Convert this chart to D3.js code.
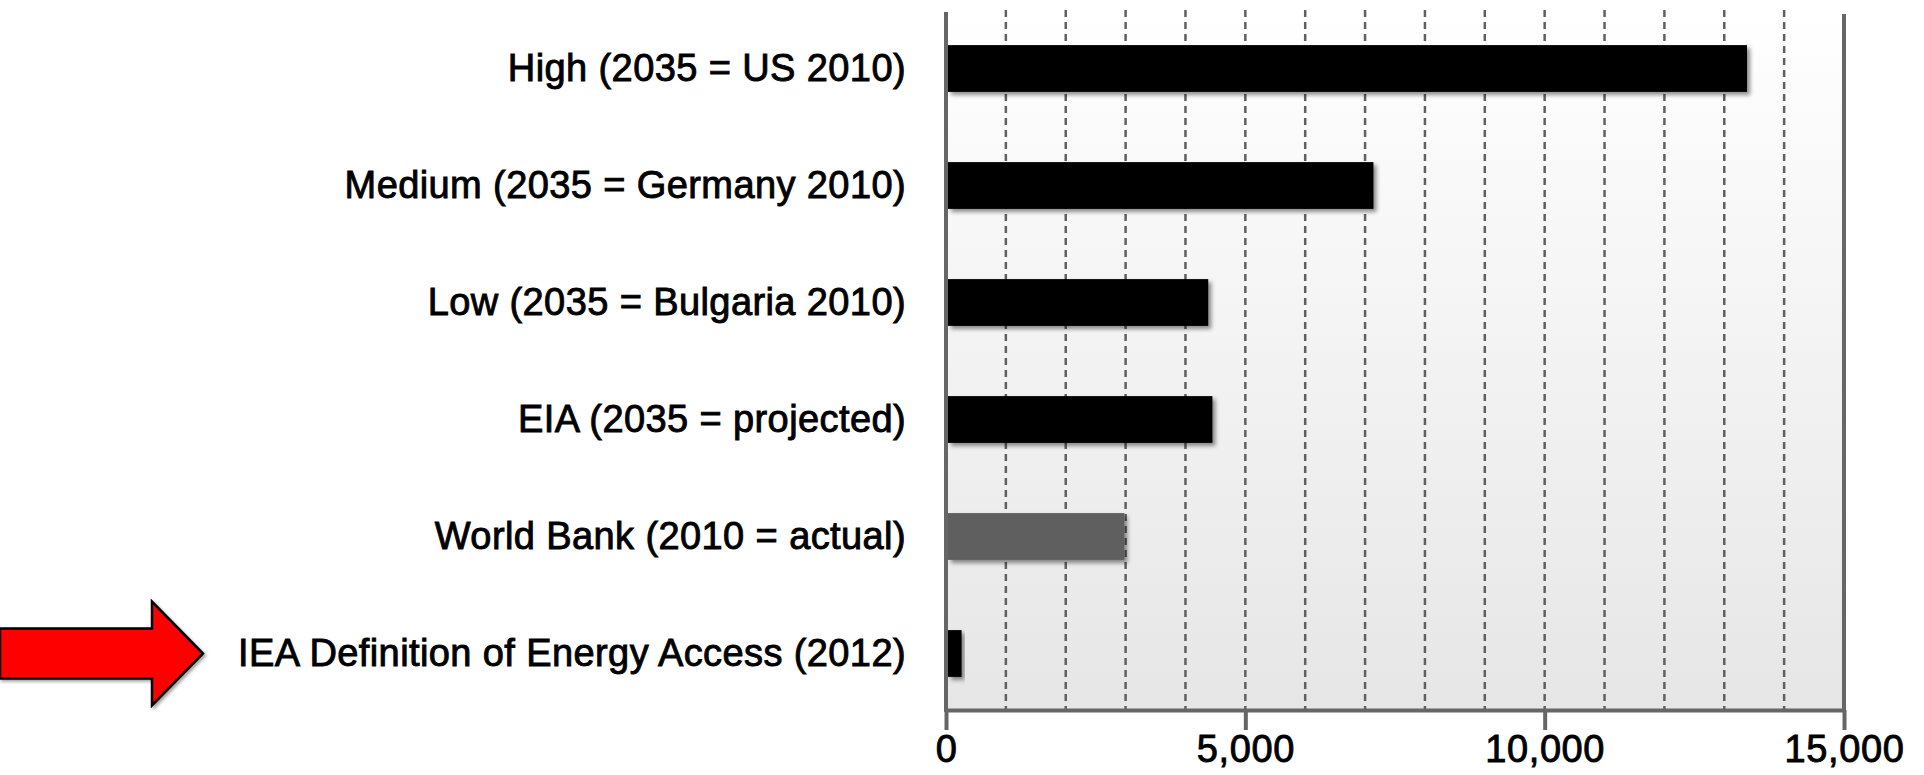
<!DOCTYPE html>
<html>
<head>
<meta charset="utf-8">
<script src="https://cdn.jsdelivr.net/npm/d3@7"></script>
<style>
  body { margin: 0; background: #fff; }
  svg { display: block; }
  .lbl text { font-family: "Liberation Sans", Arial, sans-serif; font-size: 38px; letter-spacing: 0.6px; fill: #000; stroke: #000; stroke-width: 0.9px; }
</style>
</head>
<body>
<script>
// data
var categories = [
    "High (2035 = US 2010)",
    "Medium (2035 = Germany 2010)",
    "Low (2035 = Bulgaria 2010)",
    "EIA (2035 = projected)",
    "World Bank (2010 = actual)",
    "IEA Definition of Energy Access (2012)"
];
var values = [13380, 7140, 4380, 4450, 2980, 260];
var barColors = ["#000", "#000", "#000", "#000", "#5f5f5f", "#000"];
var tickVals = [0, 5000, 10000, 15000];

var width = 1924, height = 775;

var svg = d3.select("body")
    .append("svg")
    .attr("width", width)
    .attr("height", height);

var x = d3.scaleLinear()
    .domain([0, 15000])
    .range([946, 1844]);

var y = d3.scaleBand()
    .domain(categories)
    .range([10, 712])
    .paddingInner(0.6)
    .paddingOuter(0.3);

var defs = svg.append("defs");

// plot background fades from white to light grey
var grad = defs.append("linearGradient")
    .attr("id", "bg")
    .attr("x1", 0).attr("y1", 0)
    .attr("x2", 0).attr("y2", 1);
grad.append("stop").attr("offset", "0%").attr("stop-color", "#ffffff");
grad.append("stop").attr("offset", "100%").attr("stop-color", "#e6e6e6");

var shadow = defs.append("filter")
    .attr("id", "shadow")
    .attr("x", "-10%").attr("y", "-20%")
    .attr("width", "130%").attr("height", "160%");
shadow.append("feDropShadow")
    .attr("dx", 3).attr("dy", 3)
    .attr("stdDeviation", 2)
    .attr("flood-color", "#000")
    .attr("flood-opacity", 0.45);

var arrowShadow = defs.append("filter").attr("id", "ashadow");
arrowShadow.append("feDropShadow")
    .attr("dx", 2).attr("dy", 2)
    .attr("stdDeviation", 1.5)
    .attr("flood-opacity", 0.35);

svg.append("rect")
    .attr("x", x(0))
    .attr("y", 12)
    .attr("width", x(15000) - x(0))
    .attr("height", 710 - 12)
    .attr("fill", "url(#bg)");

// dashed grid every 1000
svg.append("g")
    .selectAll("line")
    .data(x.ticks(15).filter(function(d) { return d > 0 && d < 15000; }))
    .enter()
    .append("line")
    .attr("x1", function(d) { return x(d); })
    .attr("x2", function(d) { return x(d); })
    .attr("y1", 10)
    .attr("y2", 710)
    .attr("stroke", "#606060")
    .attr("stroke-width", 2.5)
    .attr("stroke-dasharray", "7,5");

// bars
svg.append("g")
    .selectAll("rect")
    .data(values)
    .enter()
    .append("rect")
    .attr("x", x(0) + 2)
    .attr("y", function(d, i) { return y(categories[i]); })
    .attr("width", function(d) { return x(d) - x(0) - 2; })
    .attr("height", y.bandwidth())
    .attr("fill", function(d, i) { return barColors[i]; })
    .attr("filter", "url(#shadow)");

// frame lines left and right
svg.append("line")
    .attr("x1", x(0)).attr("x2", x(0))
    .attr("y1", 12).attr("y2", 712)
    .attr("stroke", "#666").attr("stroke-width", 4);
svg.append("line")
    .attr("x1", x(15000)).attr("x2", x(15000))
    .attr("y1", 14).attr("y2", 712)
    .attr("stroke", "#666").attr("stroke-width", 4);

// bottom axis
var xAxis = svg.append("g")
    .attr("class", "lbl")
    .attr("transform", "translate(0,710)")
    .call(d3.axisBottom(x)
        .tickValues(tickVals)
        .tickSize(20)
        .tickSizeOuter(0)
        .tickPadding(5)
        .tickFormat(d3.format(",")));
xAxis.select(".domain")
    .attr("stroke", "#666")
    .attr("stroke-width", 4);
xAxis.selectAll(".tick line")
    .attr("stroke", "#666")
    .attr("stroke-width", 4);
xAxis.selectAll(".tick text").attr("fill", "#000");

// category labels
var yAxis = svg.append("g")
    .attr("class", "lbl")
    .attr("transform", "translate(" + x(0) + ",0)")
    .call(d3.axisLeft(y).tickSize(0).tickPadding(40));
yAxis.select(".domain").remove();
yAxis.selectAll(".tick text").attr("fill", "#000").style("letter-spacing", "0.4px");

// red arrow pointing at the IEA label
var last = categories[categories.length - 1];
var cy = y(last) + y.bandwidth() / 2;
var arrow = [
    [0, cy - 25], [152, cy - 25], [152, cy - 52], [203, cy],
    [152, cy + 52], [152, cy + 25], [0, cy + 25]
];
svg.append("path")
    .attr("d", d3.line()(arrow) + "Z")
    .attr("fill", "#ff0000")
    .attr("stroke", "#000")
    .attr("stroke-width", 2.5)
    .attr("stroke-linejoin", "miter")
    .attr("filter", "url(#ashadow)");
</script>
</body>
</html>
